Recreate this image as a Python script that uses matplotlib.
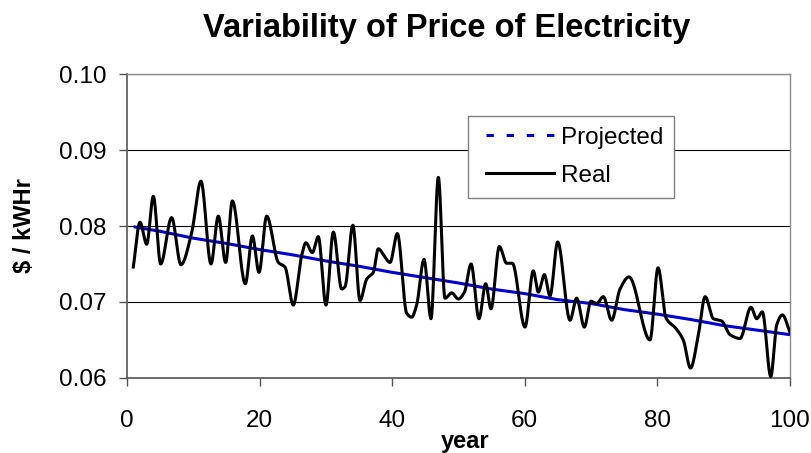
import numpy as np
import matplotlib
matplotlib.use("Agg")
import matplotlib.pyplot as plt
from matplotlib.lines import Line2D
from matplotlib.legend_handler import HandlerLine2D

title = "Variability of Price of Electricity"
x_label = "year"
y_label = "$ / kWHr"
series_names = ["Projected", "Real"]

x_ticks = [0, 20, 40, 60, 80, 100]
y_ticks = [0.06, 0.07, 0.08, 0.09, 0.10]
y_tick_labels = ["0.06", "0.07", "0.08", "0.09", "0.10"]

proj_year = [1, 5, 10, 15, 20, 25, 30, 35, 40, 45, 50, 55, 60, 65, 70, 75, 80, 85, 90, 95, 100]
proj_price = [0.0799, 0.0793, 0.0784, 0.0777, 0.0769, 0.0762, 0.0754, 0.0747, 0.0739, 0.0732,
              0.0725, 0.0717, 0.0711, 0.0703, 0.0698, 0.0690, 0.0684, 0.0677, 0.0669, 0.0663, 0.0657]

real_year = [0.95, 1.96, 2.97, 3.97, 5.08, 6.73, 8.14, 9.75, 11.16, 12.67, 13.77, 14.88, 15.89,
             17.85, 18.91, 19.91, 21.07, 22.83, 23.83, 25.08, 26.34, 26.98, 27.95, 28.85, 30.01,
             31.12, 32.38, 32.88, 34.07, 35.14, 36.15, 37.15, 37.91, 38.91, 39.67, 40.78, 42.19,
             42.93, 43.69, 44.8, 45.85, 46.96, 47.96, 48.97, 49.97, 50.9, 51.9, 53.09, 54.1, 54.9,
             56.16, 57.26, 58.12, 60.03, 61.28, 62.04, 62.95, 63.8, 64.96, 66.82, 67.82, 68.98,
             69.98, 70.84, 71.84, 73.1, 74.36, 75.72, 78.88, 80.1, 81.3, 82.8, 83.9, 85.0, 86.18,
             87.2, 88.44, 89.69, 90.95, 92.46, 94.12, 94.98, 95.83, 97.1, 98.0, 98.85, 100.0]
real_price = [0.0746, 0.0805, 0.0776, 0.0839, 0.0750, 0.0811, 0.0749, 0.0791, 0.0859, 0.0750,
              0.0813, 0.0752, 0.0833, 0.0724, 0.0787, 0.0739, 0.0813, 0.0752, 0.0746, 0.0696,
              0.0761, 0.0778, 0.0765, 0.0786, 0.0696, 0.0792, 0.0717, 0.0720, 0.0801, 0.0702,
              0.0730, 0.0739, 0.0770, 0.0759, 0.0752, 0.0790, 0.0685, 0.0680, 0.0696, 0.0756,
              0.0678, 0.0864, 0.0705, 0.0712, 0.0704, 0.0713, 0.0750, 0.0678, 0.0724, 0.0691,
              0.0773, 0.0751, 0.0751, 0.0667, 0.0741, 0.0713, 0.0736, 0.0708, 0.0779, 0.0676,
              0.0705, 0.0667, 0.0701, 0.0698, 0.0707, 0.0676, 0.0717, 0.0733, 0.0650, 0.0745,
              0.0679, 0.0665, 0.0650, 0.0613, 0.0657, 0.0707, 0.0678, 0.0675, 0.0657, 0.0652,
              0.0693, 0.0678, 0.0687, 0.0602, 0.0670, 0.0683, 0.0660]


def smooth_curve(x, y, n=24):
    """Monotone cubic (PCHIP) rendering of a line through the given points."""
    x = np.asarray(x, float)
    y = np.asarray(y, float)
    h = np.diff(x)
    d = np.diff(y) / h
    m = np.zeros_like(y)
    m[0], m[-1] = d[0], d[-1]
    for k in range(1, len(x) - 1):
        if d[k - 1] * d[k] <= 0:
            m[k] = 0.0
        else:
            w1 = 2 * h[k] + h[k - 1]
            w2 = h[k] + 2 * h[k - 1]
            m[k] = (w1 + w2) / (w1 / d[k - 1] + w2 / d[k])
    xs, ys = [], []
    for k in range(len(x) - 1):
        t = np.linspace(0, 1, n, endpoint=False)
        h00 = 2 * t**3 - 3 * t**2 + 1
        h10 = t**3 - 2 * t**2 + t
        h01 = -2 * t**3 + 3 * t**2
        h11 = t**3 - t**2
        xs.append(x[k] + t * h[k])
        ys.append(h00 * y[k] + h10 * h[k] * m[k] + h01 * y[k + 1] + h11 * h[k] * m[k + 1])
    xs.append([x[-1]])
    ys.append([y[-1]])
    return np.concatenate(xs), np.concatenate(ys)


class ShiftedLineHandler(HandlerLine2D):
    """Legend line that leaves a small blank gap at its left end."""
    def __init__(self, shift=0.2, **kw):
        super().__init__(**kw)
        self.shift = shift

    def create_artists(self, legend, orig_handle, xdescent, ydescent, width, height,
                       fontsize, trans):
        s = self.shift * width
        return super().create_artists(legend, orig_handle, xdescent - s, ydescent,
                                      width - s, height, fontsize, trans)


plt.rcParams['font.family'] = ['Liberation Sans', 'DejaVu Sans']

W, H = 812, 453
fig = plt.figure(figsize=(W / 100, H / 100), dpi=100)
ax = fig.add_axes([0.1564, 0.1656, 0.8165, 0.671])

blue = '#0000D0'
ax.plot(proj_year, proj_price, color=blue, lw=2.2, solid_capstyle='butt', zorder=3)
rx, ry = smooth_curve(real_year, real_price)
ax.plot(rx, ry, color='black', lw=2.2, solid_joinstyle='round', zorder=4)

ax.set_xlim(0, 100)
ax.set_ylim(0.06, 0.10)
ax.set_xticks(x_ticks)
ax.set_yticks(y_ticks)
ax.set_yticklabels(y_tick_labels)
ax.tick_params(axis='both', labelsize=17.5, length=6, width=1, color='#555555', direction='out')
ax.tick_params(axis='y', pad=9)
ax.tick_params(axis='x', pad=17)

ax.set_axisbelow(True)
ax.yaxis.grid(True, color='black', lw=0.8)
for s in ['top', 'right']:
    ax.spines[s].set_color('#8c8c8c')
    ax.spines[s].set_linewidth(1.0)
for s in ['left', 'bottom']:
    ax.spines[s].set_color('#555555')
    ax.spines[s].set_linewidth(1.2)

fig.text(447 / W, 1 - 37 / H, title, fontsize=23.5, fontweight='bold',
         ha='center', va='baseline')
fig.text(465 / W, 1 - 448 / H, x_label, fontsize=17, fontweight='bold',
         ha='center', va='baseline')
ax.set_ylabel(y_label, fontsize=17, fontweight='bold', labelpad=16)

handles = [
    Line2D([], [], color=blue, lw=2.2, dashes=(2.4, 4.2), dash_capstyle='butt'),
    Line2D([], [], color='black', lw=2.2),
]
leg = ax.legend(handles, series_names, loc='upper left', bbox_to_anchor=(0.514, 0.862),
                borderaxespad=0, fontsize=17.5, handlelength=3.1, handletextpad=0.28,
                labelspacing=0.66, borderpad=0.45, frameon=True, fancybox=False,
                framealpha=1, edgecolor='#808080',
                handler_map={Line2D: ShiftedLineHandler(shift=0.1)})
leg.get_frame().set_linewidth(1.0)

fig.savefig('out.png', dpi=100, facecolor='white')
